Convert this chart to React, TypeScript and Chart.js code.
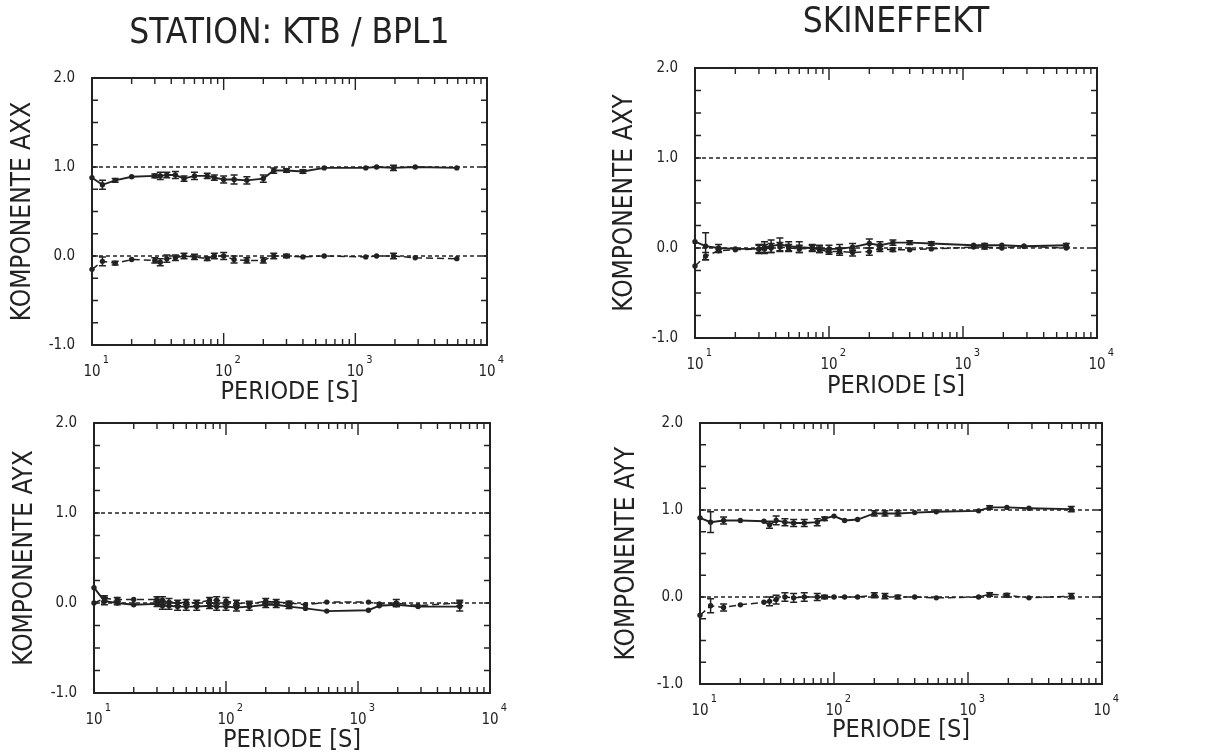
import React, { useEffect, useRef } from 'react';
import { Chart, registerables } from 'chart.js';

Chart.register(...registerables);

// ---------------- data ----------------
const periods = [10, 12, 15, 20, 30, 33, 37, 43, 50, 60, 75, 85, 100, 120, 150, 200, 240, 300, 400, 580, 1200, 1450, 1950, 2850, 5900];

const axxRe = [0.88, 0.8, 0.85, 0.89, 0.9, 0.9, 0.91, 0.91, 0.87, 0.9, 0.9, 0.88, 0.86, 0.86, 0.85, 0.87, 0.96, 0.96, 0.95, 0.99, 0.99, 1.0, 0.99, 1.0, 0.99];
const axxReErr = [0.01, 0.05, 0.02, 0.01, 0.02, 0.04, 0.03, 0.04, 0.03, 0.04, 0.03, 0.03, 0.04, 0.05, 0.04, 0.04, 0.03, 0.02, 0.02, 0.01, 0.01, 0.01, 0.03, 0.01, 0.01];
const axxIm = [-0.15, -0.06, -0.08, -0.04, -0.05, -0.07, -0.03, -0.02, 0.0, -0.01, -0.03, 0.0, 0.0, -0.04, -0.05, -0.05, 0.0, 0.0, -0.01, 0.0, -0.01, 0.0, 0.0, -0.02, -0.03];
const axxImErr = [0.01, 0.05, 0.02, 0.01, 0.03, 0.04, 0.04, 0.03, 0.03, 0.03, 0.02, 0.03, 0.04, 0.04, 0.03, 0.03, 0.03, 0.02, 0.01, 0.01, 0.01, 0.01, 0.03, 0.01, 0.01];

const axyRe = [0.07, 0.02, 0.0, -0.01, -0.01, 0.01, 0.02, 0.04, 0.02, 0.01, 0.0, -0.01, -0.01, -0.01, 0.01, 0.05, 0.03, 0.06, 0.06, 0.05, 0.03, 0.03, 0.03, 0.02, 0.03];
const axyReErr = [0.01, 0.15, 0.04, 0.01, 0.05, 0.06, 0.07, 0.07, 0.05, 0.06, 0.04, 0.04, 0.04, 0.05, 0.04, 0.05, 0.04, 0.03, 0.02, 0.02, 0.01, 0.02, 0.01, 0.01, 0.02];
const axyIm = [-0.2, -0.09, -0.03, -0.02, -0.01, -0.01, 0.0, 0.01, 0.0, -0.01, 0.0, -0.02, -0.04, -0.04, -0.05, -0.04, -0.01, -0.02, -0.02, -0.01, 0.01, 0.01, 0.0, 0.02, 0.0];
const axyImErr = [0.01, 0.04, 0.02, 0.01, 0.04, 0.05, 0.05, 0.05, 0.04, 0.04, 0.03, 0.03, 0.03, 0.04, 0.04, 0.04, 0.03, 0.02, 0.01, 0.01, 0.01, 0.02, 0.01, 0.01, 0.01];

const ayxRe = [0.17, 0.02, 0.0, -0.02, -0.01, -0.03, -0.03, -0.04, -0.04, -0.04, -0.03, -0.04, -0.04, -0.05, -0.04, -0.02, -0.02, -0.04, -0.06, -0.09, -0.08, -0.03, -0.02, -0.04, -0.04];
const ayxReErr = [0.01, 0.04, 0.02, 0.01, 0.03, 0.04, 0.04, 0.04, 0.04, 0.04, 0.03, 0.04, 0.04, 0.04, 0.04, 0.03, 0.03, 0.02, 0.01, 0.01, 0.01, 0.01, 0.02, 0.01, 0.05];
const ayxIm = [0.0, 0.05, 0.04, 0.04, 0.04, 0.03, 0.01, 0.0, 0.01, 0.0, 0.03, 0.03, 0.02, 0.0, -0.01, 0.02, 0.01, 0.0, -0.02, 0.01, 0.01, -0.01, 0.0, -0.03, 0.0];
const ayxImErr = [0.01, 0.03, 0.02, 0.01, 0.03, 0.04, 0.04, 0.03, 0.03, 0.03, 0.03, 0.04, 0.04, 0.03, 0.03, 0.03, 0.03, 0.02, 0.01, 0.01, 0.01, 0.01, 0.04, 0.01, 0.03];

const ayyRe = [0.91, 0.86, 0.88, 0.88, 0.87, 0.83, 0.88, 0.86, 0.85, 0.85, 0.86, 0.9, 0.93, 0.88, 0.89, 0.96, 0.96, 0.96, 0.97, 0.98, 0.99, 1.03, 1.03, 1.02, 1.01];
const ayyReErr = [0.01, 0.12, 0.04, 0.01, 0.01, 0.04, 0.05, 0.04, 0.04, 0.04, 0.04, 0.02, 0.01, 0.01, 0.01, 0.03, 0.03, 0.03, 0.01, 0.01, 0.01, 0.02, 0.01, 0.01, 0.03];
const ayyIm = [-0.21, -0.1, -0.12, -0.09, -0.06, -0.05, -0.03, 0.0, -0.01, 0.0, 0.0, 0.0, 0.0, 0.0, 0.0, 0.02, 0.01, 0.0, 0.0, -0.01, 0.0, 0.03, 0.02, -0.01, 0.01];
const ayyImErr = [0.01, 0.08, 0.04, 0.01, 0.01, 0.05, 0.05, 0.05, 0.05, 0.05, 0.04, 0.02, 0.01, 0.01, 0.01, 0.03, 0.03, 0.02, 0.01, 0.01, 0.01, 0.02, 0.02, 0.01, 0.03];

const refLevels = [1.0, 0.0];
const xRange = [10, 10000];
const yRange = [-1, 2];
const yTickStep = 0.25;
const yLabelValues = [-1, 0, 1, 2];
const decadeExponents = [1, 2, 3, 4];
const minorMultipliers = [1, 2, 3, 4, 5, 6, 7, 8, 9];

const mainTitles = ['STATION: KTB / BPL1', 'SKINEFFEKT'];
const yTitles = ['KOMPONENTE AXX', 'KOMPONENTE AXY', 'KOMPONENTE AYX', 'KOMPONENTE AYY'];
const xTitle = 'PERIODE [S]';

// ---------------- style / layout ----------------
const INK = '#222222';
const FONT = "'DejaVu Sans Condensed', 'DejaVu Sans', sans-serif";
const TITLE_SIZE = 35;
const XTITLE_SIZE = 25;
const YTITLE_SIZE = 26;

type PanelCfg = {
  cx: number; cy: number; cw: number; ch: number;
  L: number; R: number; T: number; B: number; // plot box relative to canvas
  title?: string; titleCenter?: number;
  yTitle: string; yTitleCenter: number; xTitleCenter: number;
  re: number[]; reErr: number[]; im: number[]; imErr: number[];
};

const panels: PanelCfg[] = [
  { cx: 0, cy: 0, cw: 600, ch: 405, L: 92, R: 487, T: 78, B: 345, title: mainTitles[0], titleCenter: 34,
    yTitle: yTitles[0], yTitleCenter: 23, xTitleCenter: 392, re: axxRe, reErr: axxReErr, im: axxIm, imErr: axxImErr },
  { cx: 600, cy: 0, cw: 605, ch: 405, L: 95, R: 497, T: 68, B: 338, title: mainTitles[1], titleCenter: 23,
    yTitle: yTitles[1], yTitleCenter: 25, xTitleCenter: 386, re: axyRe, reErr: axyReErr, im: axyIm, imErr: axyImErr },
  { cx: 0, cy: 405, cw: 600, ch: 349, L: 94, R: 490, T: 18, B: 288,
    yTitle: yTitles[2], yTitleCenter: 25, xTitleCenter: 335, re: ayxRe, reErr: ayxReErr, im: ayxIm, imErr: ayxImErr },
  { cx: 600, cy: 405, cw: 605, ch: 349, L: 100, R: 502, T: 10, B: 279,
    yTitle: yTitles[3], yTitleCenter: 27, xTitleCenter: 325, re: ayyRe, reErr: ayyReErr, im: ayyIm, imErr: ayyImErr },
];

// draws the frame, inward ticks, decade labels and error bars through the chart's scales
const plotterPlugin = {
  id: 'plotter',
  afterDatasetsDraw(chart: any) {
    const { ctx, scales } = chart;
    const x = scales.x, y = scales.y;
    ctx.save();
    ctx.strokeStyle = INK;
    ctx.lineWidth = 1.5;
    chart.data.datasets.forEach((ds: any) => {
      if (!ds.errors) return;
      ds.data.forEach((pt: any, i: number) => {
        const e = ds.errors[i];
        if (!e || e < 0.015) return;
        const px = x.getPixelForValue(pt.x);
        const y1 = y.getPixelForValue(pt.y + e);
        const y2 = y.getPixelForValue(pt.y - e);
        ctx.beginPath();
        ctx.moveTo(px, y1); ctx.lineTo(px, y2);
        ctx.moveTo(px - 3.5, y1); ctx.lineTo(px + 3.5, y1);
        ctx.moveTo(px - 3.5, y2); ctx.lineTo(px + 3.5, y2);
        ctx.stroke();
      });
    });
    ctx.restore();
  },
  afterDraw(chart: any) {
    const { ctx, chartArea, scales } = chart;
    const { left, right, top, bottom } = chartArea;
    const x = scales.x, y = scales.y;
    ctx.save();
    ctx.strokeStyle = INK;
    ctx.lineWidth = 2;
    ctx.strokeRect(left, top, right - left, bottom - top);
    ctx.lineWidth = 1.4;
    ctx.beginPath();
    for (let v = yRange[0]; v <= yRange[1] + 1e-9; v += yTickStep) {
      const py = y.getPixelForValue(v);
      ctx.moveTo(left, py); ctx.lineTo(left + 6, py);
      ctx.moveTo(right, py); ctx.lineTo(right - 6, py);
    }
    decadeExponents.forEach((e) => {
      minorMultipliers.forEach((m) => {
        const v = m * Math.pow(10, e);
        if (v > xRange[1] + 1e-6) return;
        const px = x.getPixelForValue(v);
        const len = m === 1 ? 12 : 6;
        ctx.moveTo(px, bottom); ctx.lineTo(px, bottom - len);
        ctx.moveTo(px, top); ctx.lineTo(px, top + len);
      });
    });
    ctx.stroke();
    ctx.fillStyle = INK;
    ctx.textAlign = 'center';
    ctx.textBaseline = 'middle';
    decadeExponents.forEach((e) => {
      const px = x.getPixelForValue(Math.pow(10, e));
      ctx.font = `15px ${FONT}`;
      ctx.fillText('10', px, bottom + 27);
      ctx.font = `11px ${FONT}`;
      ctx.fillText(String(e), px + 14, bottom + 15);
    });
    ctx.restore();
  },
};

function Panel({ cfg }: { cfg: PanelCfg }) {
  const ref = useRef<HTMLCanvasElement | null>(null);
  useEffect(() => {
    if (!ref.current) return;
    const ds = (vals: number[], errs: number[], dashed: boolean) => ({
      type: 'line',
      data: periods.map((p, i) => ({ x: p, y: vals[i] })),
      errors: errs,
      borderColor: INK,
      backgroundColor: INK,
      borderWidth: dashed ? 1.5 : 1.9,
      borderDash: dashed ? [7, 4] : [],
      pointRadius: 2.7,
      pointBorderWidth: 0,
      pointBackgroundColor: INK,
      tension: 0,
      clip: false,
    });
    const refs = refLevels.map((lvl) => ({
      type: 'line',
      data: xRange.map((xv) => ({ x: xv, y: lvl })),
      borderColor: INK,
      borderWidth: 1.6,
      borderDash: [4, 3],
      pointRadius: 0,
    }));
    const lineH = TITLE_SIZE * 1.2;
    const titleOpts = cfg.title
      ? {
          display: true,
          text: cfg.title,
          fullSize: false,
          color: INK,
          font: { family: FONT, size: TITLE_SIZE, weight: 'normal' },
          padding: { top: cfg.titleCenter! - lineH / 2, bottom: cfg.T - (cfg.titleCenter! + lineH / 2) },
        }
      : { display: false };
    const chart = new Chart(ref.current, {
      type: 'line',
      data: { datasets: [...refs, ds(cfg.re, cfg.reErr, false), ds(cfg.im, cfg.imErr, true)] as any },
      options: {
        responsive: false,
        animation: false,
        events: [],
        layout: { padding: { left: 0, right: cfg.cw - cfg.R, top: cfg.title ? 0 : cfg.T, bottom: 0 } },
        plugins: {
          legend: { display: false },
          tooltip: { enabled: false },
          title: titleOpts as any,
        },
        scales: {
          x: {
            type: 'logarithmic',
            min: xRange[0],
            max: xRange[1],
            position: 'bottom',
            grid: { display: false },
            border: { display: false },
            ticks: { display: false },
            title: {
              display: true,
              text: xTitle,
              color: INK,
              font: { family: FONT, size: XTITLE_SIZE },
              padding: { top: 0, bottom: cfg.ch - cfg.xTitleCenter - XTITLE_SIZE * 1.2 / 2 },
            },
            afterFit: (s: any) => { s.height = cfg.ch - cfg.B; },
          },
          y: {
            type: 'linear',
            min: yRange[0],
            max: yRange[1],
            position: 'left',
            grid: { display: false },
            border: { display: false },
            ticks: {
              stepSize: yTickStep,
              autoSkip: false,
              padding: 9,
              color: INK,
              font: { family: FONT, size: 15 },
              callback: (v: any) => {
                const n = Number(v);
                return yLabelValues.some((l) => Math.abs(l - n) < 1e-6) ? n.toFixed(1) : '';
              },
            },
            title: {
              display: true,
              text: cfg.yTitle,
              color: INK,
              font: { family: FONT, size: YTITLE_SIZE },
              padding: { top: cfg.yTitleCenter - YTITLE_SIZE * 1.2 / 2, bottom: 0 },
            },
            afterFit: (s: any) => { s.width = cfg.L; },
          },
        },
      } as any,
      plugins: [plotterPlugin],
    });
    return () => chart.destroy();
  }, [cfg]);
  return (
    <canvas
      ref={ref}
      width={cfg.cw}
      height={cfg.ch}
      style={{ position: 'absolute', left: cfg.cx, top: cfg.cy, width: cfg.cw, height: cfg.ch }}
    />
  );
}

export default function App() {
  return (
    <div style={{ position: 'absolute', left: 0, top: 0, width: 1205, height: 754, background: '#fff', overflow: 'hidden' }}>
      {panels.map((p, i) => (
        <Panel key={i} cfg={p} />
      ))}
    </div>
  );
}
